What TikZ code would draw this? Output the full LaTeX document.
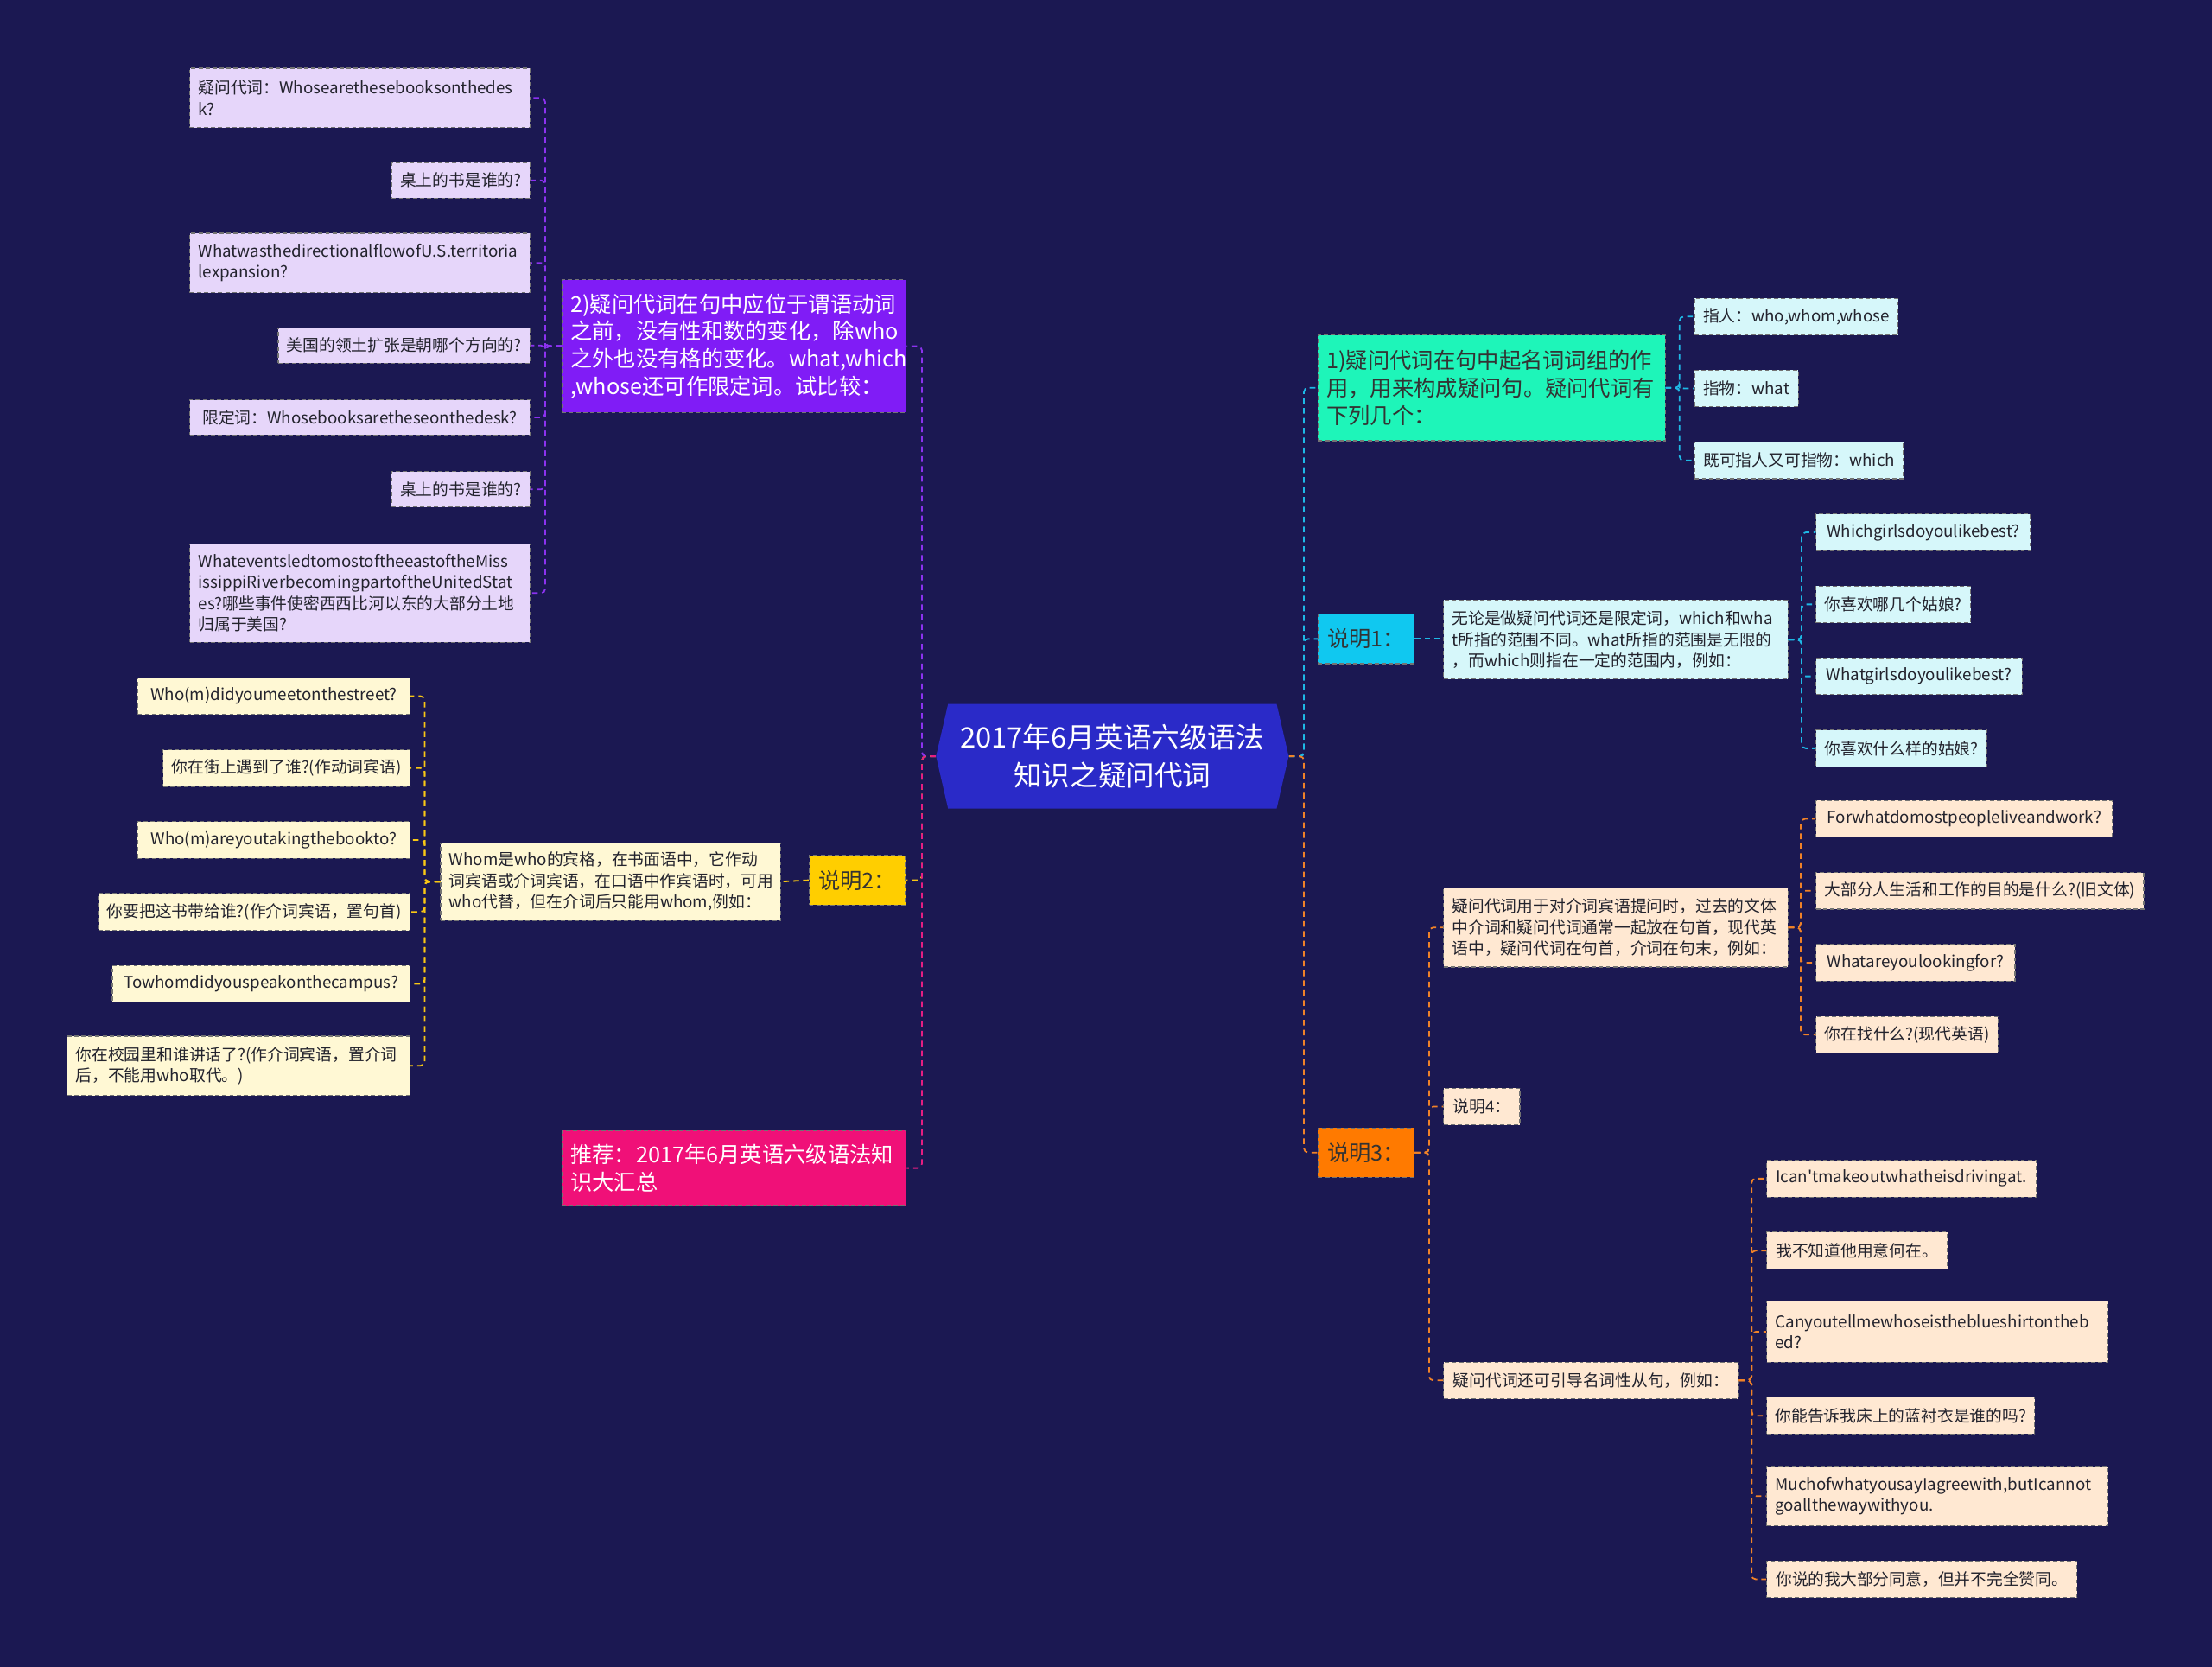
\documentclass[tikz,border=0pt]{standalone}
\usepackage{fontspec}
\setmainfont{Noto Sans CJK SC}
\newfontfamily\plainfont{Noto Sans CJK SC}[Ligatures=Common]
\usetikzlibrary{shapes.symbols}
\definecolor{bg}{RGB}{27,24,82}
\definecolor{cenc}{RGB}{42,42,200}
\definecolor{purp}{RGB}{128,28,246}
\definecolor{lav}{RGB}{230,214,250}
\definecolor{pink}{RGB}{240,16,120}
\definecolor{yel}{RGB}{255,206,0}
\definecolor{ltyel}{RGB}{255,248,212}
\definecolor{grn}{RGB}{30,245,185}
\definecolor{ltcy}{RGB}{214,247,250}
\definecolor{cyn}{RGB}{16,200,240}
\definecolor{orn}{RGB}{255,122,0}
\definecolor{peach}{RGB}{255,232,210}
\definecolor{lpurp}{RGB}{140,50,240}
\definecolor{lpink}{RGB}{230,30,130}
\definecolor{lyel}{RGB}{250,200,20}
\definecolor{lcyn}{RGB}{30,185,230}
\definecolor{lorn}{RGB}{240,130,40}
\definecolor{dtext}{RGB}{35,35,45}
\tikzset{
  box/.style={rectangle, draw=black!55, dash pattern=on 3pt off 2pt, line width=0.7pt,
    inner xsep=6pt, inner ysep=3pt, align=left},
  sm/.style={box, font=\fontsize{11.5}{15}\selectfont, text=dtext},
  md/.style={box, font=\fontsize{15.5}{19.5}\selectfont},
  lavbox/.style={sm, fill=lav},
  ylbox/.style={sm, fill=ltyel},
  cybox/.style={sm, fill=ltcy},
  pcbox/.style={sm, fill=peach},
  tagbox/.style={md, minimum width=68pt, minimum height=35pt, align=center, text=black!80},
  conn/.style={dash pattern=on 4pt off 3pt, line width=1.1pt, rounded corners=3pt},
  cpu/.style={conn, draw=lpurp},
  cpk/.style={conn, draw=lpink},
  cyl/.style={conn, draw=lyel},
  ccy/.style={conn, draw=lcyn},
  cor/.style={conn, draw=lorn},
}
\begin{document}
\begin{tikzpicture}[x=1pt,y=-1pt]
\useasboundingbox (0,0) rectangle (1568,1181.5);
\fill[bg] (0,0) rectangle (1568,1181.5);

% central
\node[signal, signal to=west and east, signal pointer angle=154, fill=cenc, text=white,
  minimum width=250pt, minimum height=74pt, align=center,
  font=\fontsize{20}{26.5}\selectfont] (c) at (788.5,536) {2017年6月英语六级语法\\知识之疑问代词};

% ---------- left: purple branch
\node[md, fill=purp, text=white, anchor=north west, text width=232pt, minimum height=94pt] (P) at (398,198)
  {2)疑问代词在句中应位于谓语动词\\之前，没有性和数的变化，除who\\之外也没有格的变化。what,which\\,whose还可作限定词。试比较：};
\node[lavbox, anchor=north east, text width=229pt, minimum height=42pt] (p1) at (376,48) {疑问代词：Whosearethesebooksonthedes\\k?};
\node[lavbox, anchor=north east, minimum width=97pt, minimum height=25pt] (p2) at (376,115) {桌上的书是谁的?};
\node[lavbox, anchor=north east, text width=229pt, minimum height=42pt] (p3) at (376,165) {WhatwasthedirectionalflowofU.S.territoria\\lexpansion?};
\node[lavbox, anchor=north east, minimum width=177pt, minimum height=25pt] (p4) at (376,232) {美国的领土扩张是朝哪个方向的?};
\node[lavbox, anchor=north east, minimum width=241pt, minimum height=25pt] (p5) at (376,283) {限定词：Whosebooksaretheseonthedesk?};
\node[lavbox, anchor=north east, minimum width=97pt, minimum height=25pt] (p6) at (376,334) {桌上的书是谁的?};
\node[lavbox, anchor=north east, text width=229pt, minimum height=70pt] (p7) at (376,385) {WhateventsledtomostoftheeastoftheMiss\\issippiRiverbecomingpartoftheUnitedStat\\es?哪些事件使密西西比河以东的大部分土地\\归属于美国?};

% ---------- left: yellow branch
\node[tagbox, fill=yel, anchor=north east] (S2) at (642,606) {说明2：};
\node[ylbox, anchor=north west, text width=229pt, minimum height=55pt] (W) at (312,597)
  {Whom是who的宾格，在书面语中，它作动\\词宾语或介词宾语，在口语中作宾语时，可用\\who代替，但在介词后只能用whom,例如：};
\node[ylbox, anchor=north east, minimum width=193pt, minimum height=26pt] (y1) at (291,480) {Who(m)didyoumeetonthestreet?};
\node[ylbox, anchor=north east, minimum width=175pt, minimum height=26pt] (y2) at (291,531) {你在街上遇到了谁?(作动词宾语)};
\node[ylbox, anchor=north east, minimum width=193pt, minimum height=26pt] (y3) at (291,582) {Who(m)areyoutakingthebookto?};
\node[ylbox, anchor=north east, minimum width=221pt, minimum height=26pt] (y4) at (291,633) {你要把这书带给谁?(作介词宾语，置句首)};
\node[ylbox, anchor=north east, minimum width=211pt, minimum height=26pt] (y5) at (291,684) {Towhomdidyouspeakonthecampus?};
\node[ylbox, anchor=north east, text width=231pt, minimum height=42pt] (y6) at (291,734) {你在校园里和谁讲话了?(作介词宾语，置介词\\后，不能用who取代。)};

% ---------- left: pink
\node[md, fill=pink, text=white, anchor=north west, text width=232pt, minimum height=53pt] (K) at (398,801)
  {推荐：2017年6月英语六级语法知\\识大汇总};

% ---------- right: green branch
\node[md, fill=grn, text=black!80, anchor=north west, text width=234pt, minimum height=75pt] (G) at (934,237)
  {1)疑问代词在句中起名词词组的作\\用，用来构成疑问句。疑问代词有\\下列几个：};
\node[cybox, anchor=north west, minimum width=144pt, minimum height=26pt] (g1) at (1201,211) {指人：who,whom,whose};
\node[cybox, anchor=north west, minimum width=73pt, minimum height=26pt] (g2) at (1201,262) {指物：what};
\node[cybox, anchor=north west, minimum width=148pt, minimum height=26pt] (g3) at (1201,313) {既可指人又可指物：which};

% ---------- right: cyan 说明1
\node[tagbox, fill=cyn, anchor=north west] (S1) at (934,435) {说明1：};
\node[cybox, anchor=north west, text width=232pt, minimum height=56pt] (T) at (1023,425)
  {无论是做疑问代词还是限定词，which和wha\\t所指的范围不同。what所指的范围是无限的\\，而which则指在一定的范围内，例如：};
\node[cybox, anchor=north west, minimum width=152pt, minimum height=26pt] (t1) at (1287,364) {Whichgirlsdoyoulikebest?};
\node[cybox, anchor=north west, minimum width=106pt, minimum height=26pt] (t2) at (1287,415) {你喜欢哪几个姑娘?};
\node[cybox, anchor=north west, minimum width=146pt, minimum height=26pt] (t3) at (1287,466) {Whatgirlsdoyoulikebest?};
\node[cybox, anchor=north west, minimum width=120pt, minimum height=26pt] (t4) at (1287,517) {你喜欢什么样的姑娘?};

% ---------- right: orange 说明3
\node[tagbox, fill=orn, anchor=north west] (S3) at (934,799) {说明3：};
\node[pcbox, anchor=north west, text width=232pt, minimum height=56pt] (A) at (1023,629)
  {疑问代词用于对介词宾语提问时，过去的文体\\中介词和疑问代词通常一起放在句首，现代英\\语中，疑问代词在句首，介词在句末，例如：};
\node[pcbox, anchor=north west, minimum width=54pt, minimum height=26pt] (B) at (1023,771) {说明4：};
\node[pcbox, anchor=north west, minimum width=209pt, minimum height=26pt] (C) at (1023,965) {疑问代词还可引导名词性从句，例如：};
\node[pcbox, anchor=north west, minimum width=210pt, minimum height=26pt] (a1) at (1287,567) {Forwhatdomostpeopleliveandwork?};
\node[pcbox, anchor=north west, minimum width=232pt, minimum height=26pt] (a2) at (1287,618) {大部分人生活和工作的目的是什么?(旧文体)};
\node[pcbox, anchor=north west, minimum width=141pt, minimum height=26pt] (a3) at (1287,669) {Whatareyoulookingfor?};
\node[pcbox, anchor=north west, minimum width=129pt, minimum height=26pt] (a4) at (1287,720) {你在找什么?(现代英语)};
\node[pcbox, anchor=north west, minimum width=191pt, minimum height=26pt] (c1) at (1252,822) {Ican{\plainfont'}tmakeoutwhatheisdrivingat.};
\node[pcbox, anchor=north west, minimum width=128pt, minimum height=26pt] (c2) at (1252,873) {我不知道他用意何在。};
\node[pcbox, anchor=north west, text width=230pt, minimum height=43pt] (c3) at (1252,922) {Canyoutellmewhoseistheblueshirtontheb\\ed?};
\node[pcbox, anchor=north west, minimum width=190pt, minimum height=26pt] (c4) at (1252,990) {你能告诉我床上的蓝衬衣是谁的吗?};
\node[pcbox, anchor=north west, text width=230pt, minimum height=42pt] (c5) at (1252,1039) {MuchofwhatyousayIagreewith,butIcannot\\goallthewaywithyou.};
\node[pcbox, anchor=north west, minimum width=220pt, minimum height=26pt] (c6) at (1252,1106) {你说的我大部分同意，但并不完全赞同。};

% trunk coordinates
\coordinate (tL) at (653.5,0);
\coordinate (tR) at (924.3,0);
\coordinate (tP) at (386.5,0);
\coordinate (tW) at (301,0);
\coordinate (tG) at (1190.5,0);
\coordinate (tT) at (1277,0);
\coordinate (tS) at (1013,0);
\coordinate (tA) at (1276.5,0);
\coordinate (tC) at (1241.6,0);

% ---------- connectors
\foreach \n in {p1,p2,p3,p4,p5,p6,p7}
  \draw[cpu] (P.west) -- (P.west -| tP) |- (\n.east);
\foreach \n in {y1,y2,y3,y4,y5,y6}
  \draw[cyl] (W.west) -- (W.west -| tW) |- (\n.east);
\draw[cyl] (S2.west) -- (W.east);
\draw[cpu] (c.west) -- (c.west -| tL) |- (P.east);
\draw[cyl] (c.west) -- (c.west -| tL) |- (S2.east);
\draw[cpk] (c.west) -- (c.west -| tL) |- (K.east);

\foreach \n in {g1,g2,g3}
  \draw[ccy] (G.east) -- (G.east -| tG) |- (\n.west);
\foreach \n in {t1,t2,t3,t4}
  \draw[ccy] (T.east) -- (T.east -| tT) |- (\n.west);
\draw[ccy] (S1.east) -- (T.west |- S1.east);
\draw[ccy] (c.east) -- (c.east -| tR) |- (G.west);
\draw[ccy] (c.east) -- (c.east -| tR) |- (S1.west);
\draw[cor] (c.east) -- (c.east -| tR) |- (S3.west);
\foreach \n in {A,B,C}
  \draw[cor] (S3.east) -- (S3.east -| tS) |- (\n.west);
\foreach \n in {a1,a2,a3,a4}
  \draw[cor] (A.east) -- (A.east -| tA) |- (\n.west);
\foreach \n in {c1,c2,c3,c4,c5,c6}
  \draw[cor] (C.east) -- (C.east -| tC) |- (\n.west);
\end{tikzpicture}
\end{document}
